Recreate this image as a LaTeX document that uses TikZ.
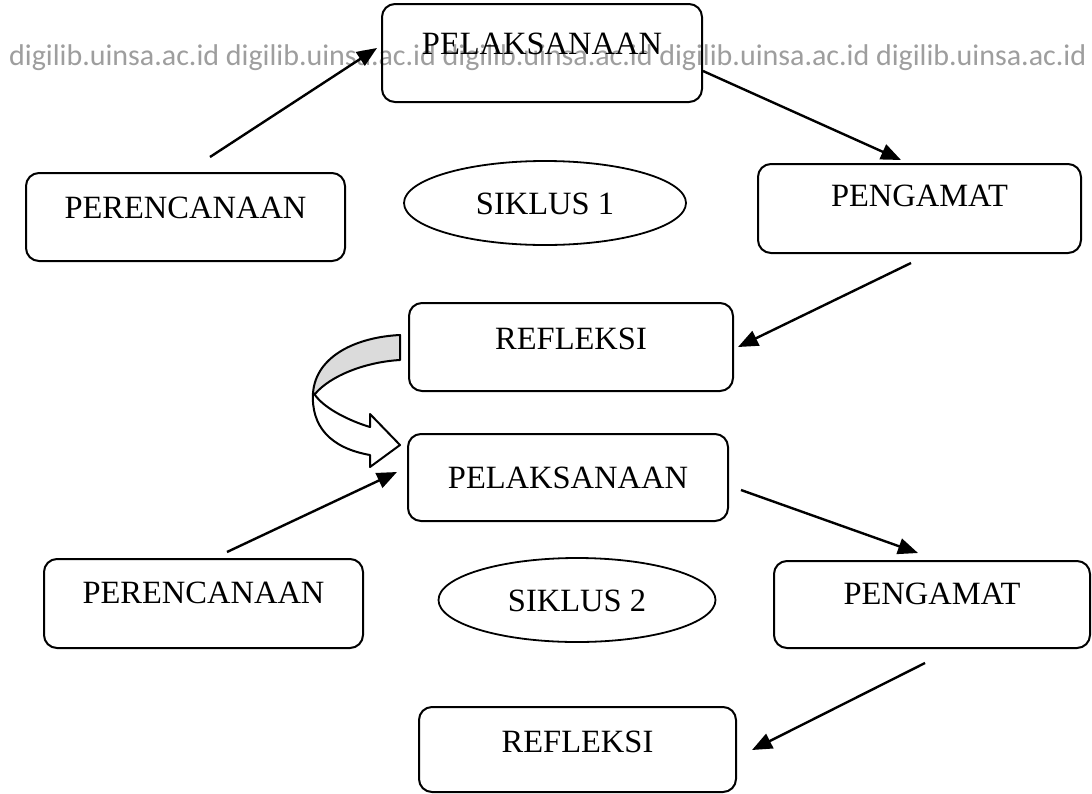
\documentclass[tikz,border=0pt]{standalone}
\usepackage{fontspec}
\setmainfont{Liberation Serif}
\newfontfamily\wmfont{Carlito}
\usetikzlibrary{arrows.meta,shapes.geometric}
\tikzset{
  x=1pt, y=-1pt,
  stagebox/.style={draw, line width=2pt, rounded corners=13pt, inner sep=0pt,
    anchor=north west, text height=22pt, text depth=#1,
    font=\fontsize{32.5}{39}\selectfont},
  cyclelabel/.style={draw, ellipse, line width=1.8pt, inner sep=0pt,
    text height=22pt, text depth=0pt, font=\fontsize{32.5}{39}\selectfont},
  flow/.style={line width=2.4pt, -{Triangle[length=20pt,width=16pt]}},
  bandline/.style={line width=2pt, line join=round},
  watermark/.style={anchor=base west, inner sep=0pt, text=black!38,
    font=\wmfont\fontsize{30}{34}\selectfont}
}
\begin{document}
\begin{tikzpicture}
\fill[white] (0,0) rectangle (1092,793);
\useasboundingbox (0,0) rectangle (1092,793);

\node[watermark] (wm) at (9,65) {digilib.uinsa.ac.id digilib.uinsa.ac.id digilib.uinsa.ac.id digilib.uinsa.ac.id digilib.uinsa.ac.id};

% cycle 1
\node[stagebox=20pt, minimum width=320pt, minimum height=98pt] (pel1) at (381,3) {PELAKSANAAN};
\node[stagebox=20pt, minimum width=319pt, minimum height=88pt] (per1) at (25,172) {PERENCANAAN};
\node[stagebox=27pt, minimum width=323pt, minimum height=89pt] (peng1) at (757,163) {PENGAMAT};
\node[stagebox=18pt, minimum width=324pt, minimum height=88pt] (ref1) at (408,302) {REFLEKSI};
\node[cyclelabel, minimum width=282pt, minimum height=84pt] (sik1) at (545,203) {SIKLUS 1};

% cycle 2
\node[stagebox=1pt, minimum width=320pt, minimum height=87pt] (pel2) at (407,433) {PELAKSANAAN};
\node[stagebox=23pt, minimum width=319pt, minimum height=89pt] (per2) at (43,558) {PERENCANAAN};
\node[stagebox=23pt, minimum width=316pt, minimum height=87pt] (peng2) at (773,560) {PENGAMAT};
\node[stagebox=16pt, minimum width=317pt, minimum height=85pt] (ref2) at (418,706) {REFLEKSI};
\node[cyclelabel, minimum width=277pt, minimum height=84pt] (sik2) at (577,600) {SIKLUS 2};

% connector end points
\coordinate (a1s) at (210,157); \coordinate (a1e) at (377,48);
\coordinate (a2s) at (703,71);  \coordinate (a2e) at (901,160);
\coordinate (a3s) at (911,263); \coordinate (a3e) at (738,347);
\coordinate (a4s) at (227,552); \coordinate (a4e) at (397,472);
\coordinate (a5s) at (741,490); \coordinate (a5e) at (918,553);
\coordinate (a6s) at (925,663); \coordinate (a6e) at (752,750);

\draw[flow] (a1s) -- (a1e);
\draw[flow] (a2s) -- (a2e);
\draw[flow] (a3s) -- (a3e);
\draw[flow] (a4s) -- (a4e);
\draw[flow] (a5s) -- (a5e);
\draw[flow] (a6s) -- (a6e);

% curved transition arrow from REFLEKSI to PELAKSANAAN
\draw[bandline, fill=gray!28] (400,335) .. controls (358,337) and (316,355) .. (313,393)
  -- (315,394) .. controls (330,376) and (365,362) .. (400,360) -- cycle;
\draw[bandline, fill=white] (313,393) .. controls (311,426) and (330,448) .. (370,455)
  -- (370,467) -- (400,445) -- (370,414) -- (370,427)
  .. controls (350,421) and (325,409) .. (315,395) -- cycle;
\end{tikzpicture}
\end{document}
